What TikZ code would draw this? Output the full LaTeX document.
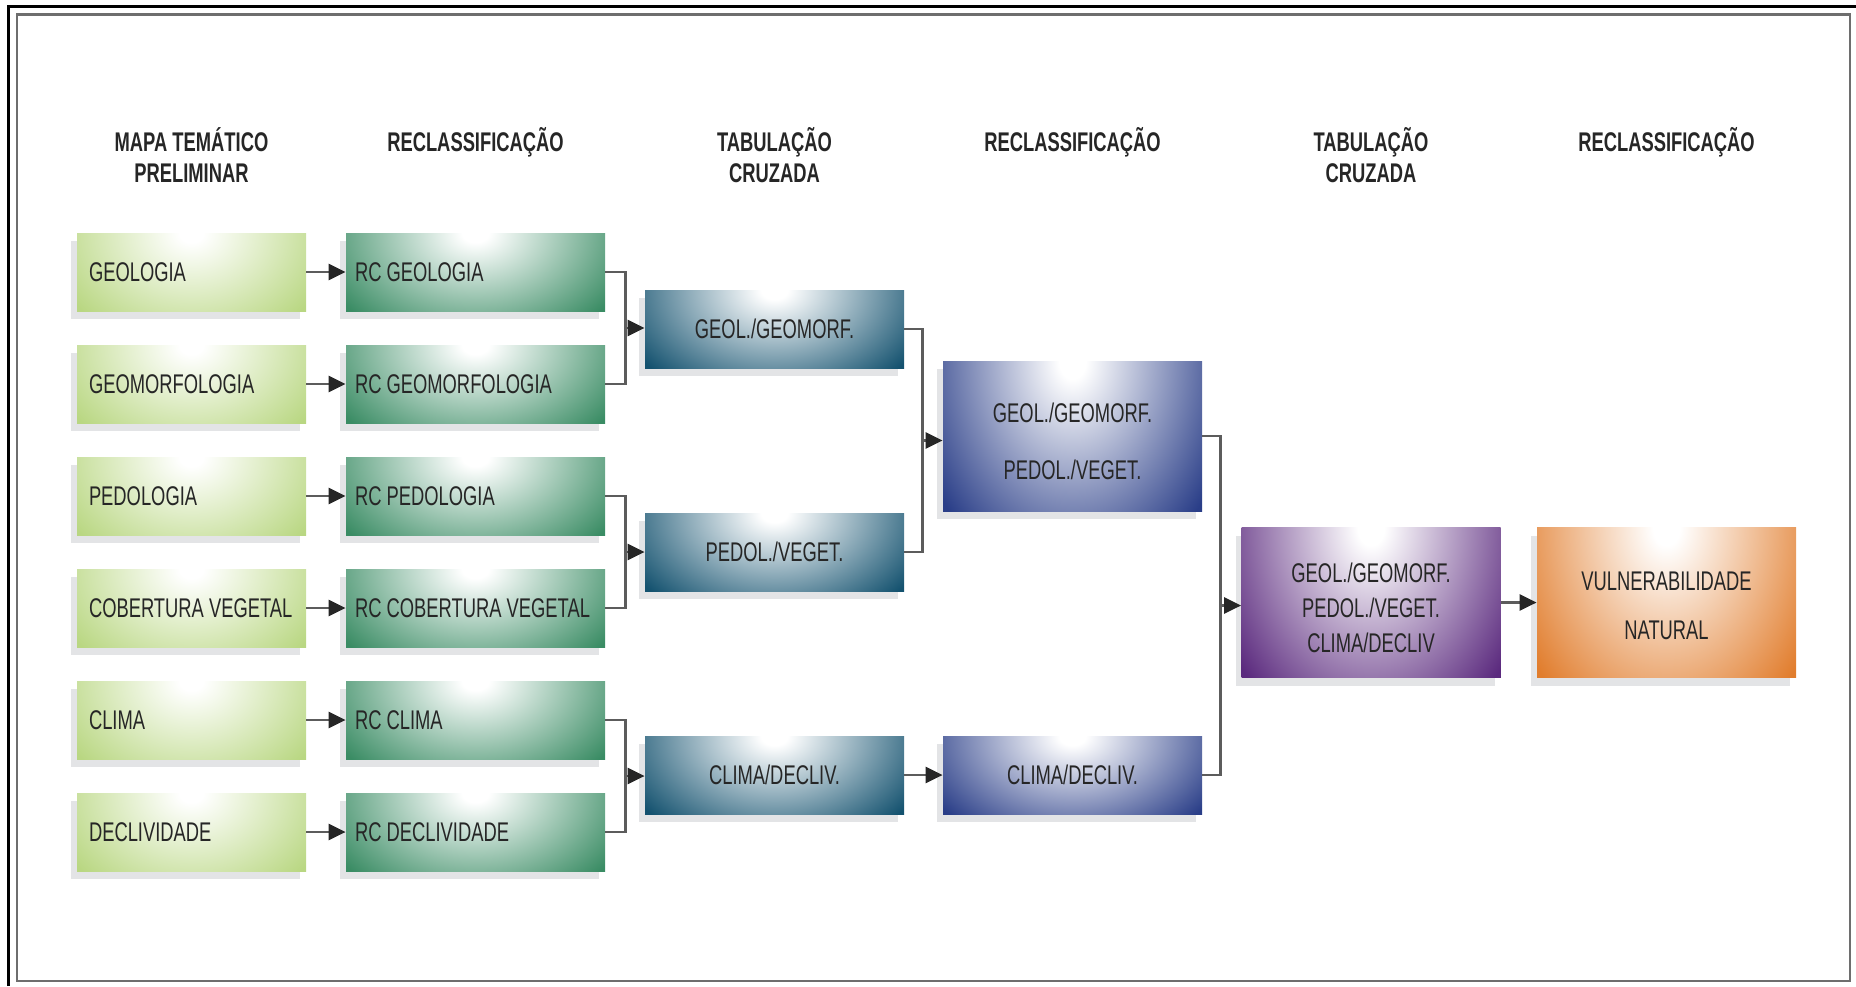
\documentclass[tikz,border=0pt]{standalone}
\usepackage{fontspec}
\setmainfont{Liberation Sans}[FakeStretch=0.68, WordSpace=1.0]
\usetikzlibrary{arrows.meta,shadows,calc}
\definecolor{cA}{HTML}{B9D782}
\definecolor{cB}{HTML}{3A8C64}
\definecolor{cC}{HTML}{14526F}
\definecolor{cD}{HTML}{2A3E88}
\definecolor{cE}{HTML}{5B2A7E}
\definecolor{cF}{HTML}{E17D2D}
\definecolor{shd}{HTML}{E3E4E6}
\definecolor{txt}{HTML}{262626}
\definecolor{lnk}{HTML}{5C5C5C}
\definecolor{frm}{HTML}{6E6E6E}
\colorlet{glowcol}{cA}
\pgfdeclareradialshading[glowcol]{glowshade}{\pgfpointorigin}{color(0bp)=(white); color(2bp)=(white); color(25bp)=(glowcol); color(50bp)=(glowcol!85!black)}
\newcommand{\topgap}[1]{\rule{0pt}{#1}}
\begin{document}
\begin{tikzpicture}[x=0.5pt, y=-0.5pt,
  box/.style={rectangle, inner sep=0pt, text=txt, fill=#1,
    font=\fontsize{13.5}{16}\selectfont,
    general shadow={fill=shd, shadow xshift=-3pt, shadow yshift=-4pt},
    path picture={\colorlet{glowcol}{#1}\shade[shading=glowshade]
      let \p1=(path picture bounding box.north west),
          \p2=(path picture bounding box.south east) in
      ({0.5*(\x1+\x2)-0.64*(\x2-\x1)},{\y1+1.5*(\y1-\y2)}) rectangle
      ({0.5*(\x1+\x2)+0.64*(\x2-\x1)},{\y1-1.5*(\y1-\y2)});}},
  mapbox/.style={box=#1, minimum width=114.5pt, minimum height=39pt,
    text width=102.5pt, inner xsep=6pt, align=flush left},
  rcbox/.style={box=#1, minimum width=129.5pt, minimum height=39pt,
    text width=120.5pt, inner xsep=4.5pt, align=flush left},
  cbox/.style={box=#1, minimum width=129.5pt, minimum height=39pt, align=center},
  bigbox/.style={box=#1, minimum width=129.5pt, minimum height=75pt, align=center},
  head/.style={font=\bfseries\fontsize{13.5}{15.5}\selectfont, text=txt,
    align=center, anchor=base, inner sep=0pt},
  lnkline/.style={draw=lnk, line width=1.3pt},
  arr/.style={draw=lnk, line width=1.3pt, -{Triangle[length=8.5pt,width=8pt,color=black!85]}}
]
\useasboundingbox (0,0) rectangle (1856,986);
% frames
\draw[black, line width=1.5pt] (8.5,986) -- (8.5,6) -- (1856,6);
\draw[frm, line width=1.2pt] (17,14.5) rectangle (1850,981);

% headers
\node[head] (h1) at (191.5,182.7) {MAPA TEMÁTICO\\PRELIMINAR};
\node[head] (h2) at (475.5,151.7) {RECLASSIFICAÇÃO};
\node[head] (h3) at (774.5,182.7) {TABULAÇÃO\\CRUZADA};
\node[head] (h4) at (1072.5,151.7) {RECLASSIFICAÇÃO};
\node[head] (h5) at (1371,182.7) {TABULAÇÃO\\CRUZADA};
\node[head] (h6) at (1666.5,151.7) {RECLASSIFICAÇÃO};

% column 1
\node[mapbox=cA] (m1) at (191.5,272) {GEOLOGIA};
\node[mapbox=cA] (m2) at (191.5,384) {GEOMORFOLOGIA};
\node[mapbox=cA] (m3) at (191.5,496) {PEDOLOGIA};
\node[mapbox=cA] (m4) at (191.5,608) {\mbox{COBERTURA VEGETAL}};
\node[mapbox=cA] (m5) at (191.5,720) {CLIMA};
\node[mapbox=cA] (m6) at (191.5,832) {DECLIVIDADE};

% column 2
\node[rcbox=cB] (r1) at (475.5,272) {RC GEOLOGIA};
\node[rcbox=cB] (r2) at (475.5,384) {RC GEOMORFOLOGIA};
\node[rcbox=cB] (r3) at (475.5,496) {RC PEDOLOGIA};
\node[rcbox=cB] (r4) at (475.5,608) {\mbox{RC COBERTURA VEGETAL}};
\node[rcbox=cB] (r5) at (475.5,720) {RC CLIMA};
\node[rcbox=cB] (r6) at (475.5,832) {RC DECLIVIDADE};

% column 3
\node[cbox=cC] (t1) at (774.5,329) {GEOL./GEOMORF.};
\node[cbox=cC] (t2) at (774.5,552) {PEDOL./VEGET.};
\node[cbox=cC] (t3) at (774.5,775) {CLIMA/DECLIV.};

% column 4
\node[bigbox=cD] (b1) at (1072.5,436) {\topgap{14.7pt}GEOL./GEOMORF.\\[12.5pt]PEDOL./VEGET.};
\node[cbox=cD] (b2) at (1072.5,775) {CLIMA/DECLIV.};

% column 5 and 6
\node[bigbox=cE] (p1) at (1371,602.5) {\topgap{14.7pt}GEOL./GEOMORF.\\[1.5pt]PEDOL./VEGET.\\[1.5pt]CLIMA/DECLIV};
\node[bigbox=cF] (o1) at (1666.5,602.5) {\topgap{12.3pt}VULNERABILIDADE\\[8.5pt]NATURAL};

% connectors column 1 -> 2
\foreach \i in {1,...,6} { \draw[arr] (m\i.east) -- (r\i.west); }

% junctions
\coordinate (ja) at ($(r1.east)!0.5!(r2.east)+(20,0)$);
\coordinate (jb) at ($(r3.east)!0.5!(r4.east)+(20,0)$);
\coordinate (jc) at ($(r5.east)!0.5!(r6.east)+(20,0)$);
\draw[lnkline] (r1.east) -| (ja) |- (r2.east);
\draw[lnkline] (r3.east) -| (jb) |- (r4.east);
\draw[lnkline] (r5.east) -| (jc) |- (r6.east);
\draw[arr] (ja) -- (ja -| t1.west);
\draw[arr] (jb) -- (jb -| t2.west);
\draw[arr] (jc) -- (jc -| t3.west);

\coordinate (jd) at ($(t1.east)!0.5!(t2.east)+(18,0)$);
\draw[lnkline] (t1.east) -| (jd) |- (t2.east);
\draw[arr] (jd) -- (jd -| b1.west);
\draw[arr] (t3.east) -- (b2.west);

\coordinate (je) at ($(b1.east)!0.5!(b2.east)+(18,0)$);
\draw[lnkline] (b1.east) -| (je) |- (b2.east);
\draw[arr] (je) -- (je -| p1.west);

\draw[arr] (p1.east) -- (o1.west);
\end{tikzpicture}
\end{document}
